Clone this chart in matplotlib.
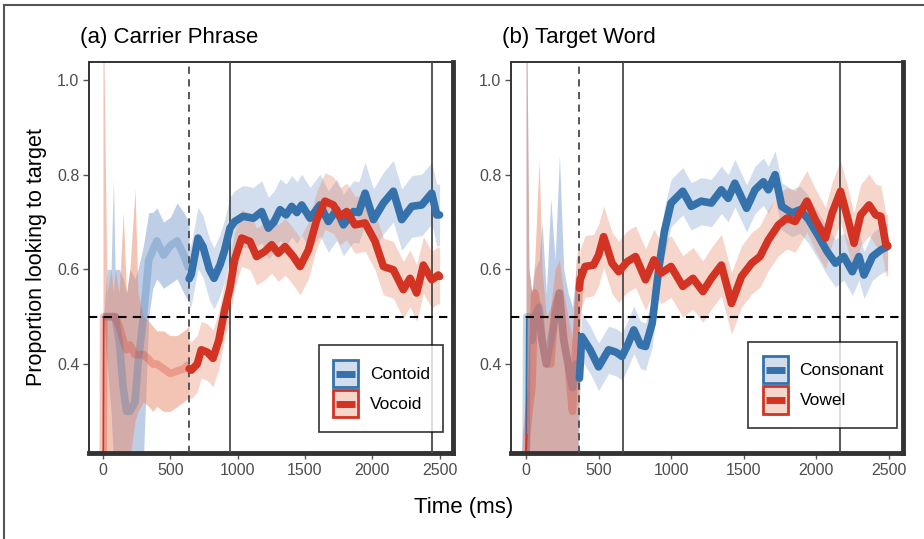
import numpy as np
import matplotlib.pyplot as plt
from matplotlib.lines import Line2D
from matplotlib.patches import Rectangle
from matplotlib.colors import to_rgba

plt.rcParams['font.family'] = ['Liberation Sans', 'DejaVu Sans']

BLUE = '#3571aa'
RED = '#d33322'
BLUE_FILL = '#7f9fd0'
RED_FILL = '#e88a6a'

# ---- (a) Carrier Phrase ----
a_events = [640, 943, 2444]          # first one is the onset (dashed)

# before onset (drawn faded)
a_pre_t = [0, 5, 30, 60, 77, 90, 120, 150, 175, 200, 238, 260, 300, 340, 370, 400, 450, 500, 550, 600, 640]
a_pre_blue = [0.5, 0.5, 0.5, 0.5, 0.5, 0.5, 0.45, 0.35, 0.3, 0.3, 0.32, 0.4, 0.5, 0.62, 0.64, 0.66, 0.63, 0.65, 0.66, 0.63, 0.60]
a_pre_blue_lo = [0.5, 0.5, 0.4, 0.3, 0.2, 0.0, 0.0, 0.0, 0.0, 0.0, 0.0, 0.0, 0.2, 0.5, 0.56, 0.58, 0.56, 0.57, 0.58, 0.55, 0.53]
a_pre_blue_hi = [0.5, 0.5, 0.6, 0.6, 0.79, 0.6, 0.6, 0.58, 0.55, 0.6, 0.58, 0.6, 0.65, 0.72, 0.72, 0.73, 0.70, 0.71, 0.74, 0.72, 0.70]
a_pre_red = [0.0, 0.5, 0.5, 0.5, 0.5, 0.5, 0.48, 0.45, 0.43, 0.44, 0.42, 0.42, 0.42, 0.41, 0.40, 0.40, 0.39, 0.38, 0.385, 0.39, 0.40]
a_pre_red_lo = [0.0, 0.0, 0.0, 0.0, 0.0, 0.0, 0.0, 0.0, 0.1, 0.2, 0.28, 0.3, 0.32, 0.31, 0.30, 0.31, 0.30, 0.30, 0.31, 0.32, 0.33]
a_pre_red_hi = [1.1, 1.1, 0.55, 0.6, 0.55, 0.6, 0.55, 0.72, 0.55, 0.6, 0.77, 0.55, 0.5, 0.49, 0.48, 0.47, 0.47, 0.46, 0.46, 0.47, 0.48]

a_blue_t = [640, 656, 706, 743, 790, 825, 870, 904, 943, 978, 1040, 1117, 1179, 1228, 1270, 1315, 1360, 1402, 1440,
            1476, 1538, 1612, 1674, 1736, 1786, 1860, 1900, 1947, 2009, 2083, 2157, 2219, 2294, 2368, 2442, 2479, 2500]
a_blue = [0.58, 0.59, 0.666, 0.648, 0.60, 0.581, 0.61, 0.641, 0.687, 0.701, 0.712, 0.708, 0.722, 0.687, 0.70, 0.726,
          0.715, 0.733, 0.72, 0.736, 0.708, 0.736, 0.701, 0.726, 0.694, 0.722, 0.72, 0.761, 0.705, 0.740, 0.765, 0.705,
          0.733, 0.736, 0.761, 0.715, 0.715]
a_red_t = [640, 656, 700, 730, 775, 817, 860, 904, 943, 978, 1030, 1092, 1141, 1203, 1253, 1302, 1352, 1414, 1464,
           1526, 1588, 1649, 1711, 1761, 1810, 1872, 1947, 2021, 2083, 2157, 2231, 2281, 2330, 2380, 2442, 2491, 2500]
a_red = [0.39, 0.387, 0.40, 0.430, 0.425, 0.412, 0.45, 0.514, 0.56, 0.620, 0.666, 0.659, 0.627, 0.638, 0.652, 0.634,
         0.648, 0.627, 0.606, 0.641, 0.705, 0.744, 0.736, 0.712, 0.722, 0.694, 0.698, 0.659, 0.606, 0.599, 0.557,
         0.581, 0.550, 0.609, 0.578, 0.588, 0.585]
a_blue_se = 0.065
a_red_se = 0.06
a_labels = ['Contoid', 'Vocoid']

# ---- (b) Target Word ----
b_events = [368, 667, 2167]

b_pre_t = [0, 5, 20, 40, 60, 90, 110, 140, 170, 200, 230, 260, 290, 320, 345, 368]
b_pre_blue = [0.21, 0.5, 0.5, 0.45, 0.5, 0.52, 0.45, 0.4, 0.45, 0.5, 0.55, 0.45, 0.4, 0.35, 0.4, 0.37]
b_pre_blue_lo = [0.0, 0.0, 0.0, 0.0, 0.0, 0.0, 0.0, 0.0, 0.0, 0.0, 0.0, 0.0, 0.0, 0.0, 0.0, 0.3]
b_pre_blue_hi = [1.1, 1.1, 0.6, 0.55, 0.6, 0.62, 0.7, 0.55, 0.75, 0.62, 0.84, 0.6, 0.55, 0.52, 0.6, 0.45]
b_pre_red = [0.21, 0.25, 0.3, 0.35, 0.55, 0.5, 0.45, 0.4, 0.4, 0.52, 0.55, 0.45, 0.4, 0.3, 0.45, 0.56]
b_pre_red_lo = [0.0, 0.0, 0.0, 0.0, 0.0, 0.0, 0.0, 0.0, 0.0, 0.0, 0.0, 0.0, 0.0, 0.0, 0.0, 0.47]
b_pre_red_hi = [1.1, 1.1, 0.6, 0.55, 0.62, 0.83, 0.6, 0.5, 0.52, 0.6, 0.62, 0.55, 0.5, 0.45, 0.62, 0.66]

b_blue_t = [368, 384, 442, 500, 569, 620, 662, 700, 743, 790, 824, 870, 917, 954, 1000, 1081, 1139, 1208, 1278, 1347,
            1394, 1440, 1521, 1579, 1637, 1671, 1718, 1764, 1833, 1891, 1949, 2019, 2076, 2134, 2192, 2250, 2296,
            2331, 2389, 2447, 2493]
b_blue = [0.37, 0.458, 0.430, 0.394, 0.430, 0.425, 0.416, 0.44, 0.472, 0.44, 0.437, 0.486, 0.606, 0.68, 0.740, 0.765,
          0.733, 0.744, 0.740, 0.768, 0.750, 0.782, 0.729, 0.768, 0.785, 0.768, 0.800, 0.733, 0.719, 0.726, 0.705,
          0.669, 0.638, 0.613, 0.627, 0.595, 0.627, 0.588, 0.627, 0.641, 0.648]
b_red_t = [368, 373, 407, 465, 500, 535, 593, 639, 697, 755, 824, 882, 931, 1000, 1081, 1151, 1220, 1278, 1347, 1417,
           1486, 1556, 1613, 1671, 1741, 1799, 1856, 1937, 1995, 2065, 2111, 2169, 2215, 2262, 2308, 2366, 2412,
           2447, 2482, 2495]
b_red = [0.56, 0.578, 0.606, 0.609, 0.63, 0.669, 0.613, 0.595, 0.616, 0.627, 0.578, 0.620, 0.592, 0.606, 0.564,
         0.581, 0.553, 0.581, 0.609, 0.528, 0.585, 0.613, 0.627, 0.662, 0.694, 0.708, 0.701, 0.744, 0.705, 0.666,
         0.719, 0.765, 0.712, 0.655, 0.715, 0.736, 0.715, 0.712, 0.652, 0.65]
b_blue_se = 0.05
b_red_se = 0.065
b_labels = ['Consonant', 'Vowel']

x_ticks = [0, 500, 1000, 1500, 2000, 2500]
y_ticks = [0.4, 0.6, 0.8, 1.0]
chance = 0.5

fig = plt.figure(figsize=(9.24, 5.39), dpi=100)
W, H = 924, 539


class KeyHandler:
    """legend key: light box with coloured border and a thick line across"""
    def __init__(self, color, fill):
        self.color = color
        self.fill = fill

    def legend_artist(self, legend, orig_handle, fontsize, handlebox):
        x0, y0 = -handlebox.xdescent, -handlebox.ydescent
        w, h = handlebox.width, handlebox.height
        tr = handlebox.get_transform()
        rect = Rectangle((x0 + 1, y0 + 1), w - 2, h - 2, facecolor=to_rgba(self.fill, 0.35),
                         edgecolor=self.color, lw=2, transform=tr)
        line = Line2D([x0 + 3, x0 + w - 3], [y0 + h / 2, y0 + h / 2], color=self.color, lw=5,
                      solid_capstyle='butt', transform=tr)
        handlebox.add_artist(rect)
        handlebox.add_artist(line)
        return rect


def add_axes(x0, x1, y_top, y_bot):
    return fig.add_axes([x0 / W, 1 - y_bot / H, (x1 - x0) / W, (y_bot - y_top) / H])


def draw_panel(ax, pre, post, events, se, labels, anchor):
    colors = [BLUE, RED]
    fills = [BLUE_FILL, RED_FILL]
    t_pre = pre[0]
    # faded pre-onset part
    for k in range(2):
        m, lo, hi = pre[1 + 3 * k], pre[2 + 3 * k], pre[3 + 3 * k]
        ax.fill_between(t_pre, lo, hi, color=fills[k], alpha=0.5, lw=0, zorder=1)
        ax.plot(t_pre, m, color=colors[k], alpha=0.28, lw=5.5, solid_capstyle='butt', zorder=2)
        ax.plot(t_pre[:2], m[:2], color=colors[k], lw=1.2, zorder=2)
    # post-onset
    for k in range(2):
        t = np.array(post[2 * k])
        m = np.array(post[2 * k + 1])
        ax.fill_between(t, m - se[k], m + se[k], color=fills[k], alpha=0.35, lw=0, zorder=1)
    for i, e in enumerate(events):
        ax.axvline(e, color='#4a4a4a', lw=1.3, ls=(0, (4, 3)) if i == 0 else '-', zorder=3)
    for k in range(2):
        ax.plot(post[2 * k], post[2 * k + 1], color=colors[k], lw=5.5, solid_capstyle='round', zorder=4)
    ax.axhline(chance, color='black', lw=1.5, ls=(0, (4, 3)), zorder=5)

    ax.set_xlim(-104, 2600)
    ax.set_ylim(0.212, 1.038)
    ax.set_xticks(x_ticks)
    ax.set_yticks(y_ticks)
    ax.set_yticklabels(['%.1f' % v for v in y_ticks])
    ax.tick_params(direction='out', length=4, width=1, color='#555555', labelcolor='#4d4d4d', labelsize=11.5, pad=3)
    for s in ['top', 'left']:
        ax.spines[s].set_linewidth(1.4)
        ax.spines[s].set_color('#333333')
    for s in ['bottom', 'right']:
        ax.spines[s].set_linewidth(3.5)
        ax.spines[s].set_color('#333333')

    keys = [Rectangle((0, 0), 1, 1), Rectangle((0, 0), 1, 1)]
    leg = ax.legend(keys, labels, loc='lower right', bbox_to_anchor=anchor, frameon=True, fancybox=False,
                    edgecolor='black', fontsize=12.5, handlelength=1.6, handleheight=2.3, labelspacing=0.0,
                    borderpad=0.75, handletextpad=0.6, borderaxespad=0,
                    handler_map={keys[0]: KeyHandler(BLUE, BLUE_FILL), keys[1]: KeyHandler(RED, RED_FILL)})
    leg.get_frame().set_linewidth(1.2)
    leg.set_zorder(10)


ax1 = add_axes(89, 453, 62, 453)
draw_panel(ax1,
           [a_pre_t, a_pre_blue, a_pre_blue_lo, a_pre_blue_hi, a_pre_red, a_pre_red_lo, a_pre_red_hi],
           [a_blue_t, a_blue, a_red_t, a_red], a_events, [a_blue_se, a_red_se], a_labels,
           (0.9725, 0.054))

ax2 = add_axes(511, 903, 62, 453)
draw_panel(ax2,
           [b_pre_t, b_pre_blue, b_pre_blue_lo, b_pre_blue_hi, b_pre_red, b_pre_red_lo, b_pre_red_hi],
           [b_blue_t, b_blue, b_red_t, b_red], b_events, [b_blue_se, b_red_se], b_labels,
           (0.985, 0.064))

fig.text(80 / W, 1 - 37 / H, '(a) Carrier Phrase', fontsize=16, va='center', ha='left')
fig.text(502 / W, 1 - 37 / H, '(b) Target Word', fontsize=16, va='center', ha='left')
fig.text(37 / W, 1 - 257 / H, 'Proportion looking to target', rotation=90, fontsize=15.5, va='center', ha='center')
fig.text(464 / W, 1 - 508 / H, 'Time (ms)', fontsize=16, va='center', ha='center')

# outer frame (top and left edges visible)
fig.add_artist(Line2D([4 / W, 1], [1 - 5 / H, 1 - 5 / H], transform=fig.transFigure, color='#555555', lw=1.5))
fig.add_artist(Line2D([4 / W, 4 / W], [0, 1 - 5 / H], transform=fig.transFigure, color='#555555', lw=1.5))

fig.savefig('out.png', dpi=100)
